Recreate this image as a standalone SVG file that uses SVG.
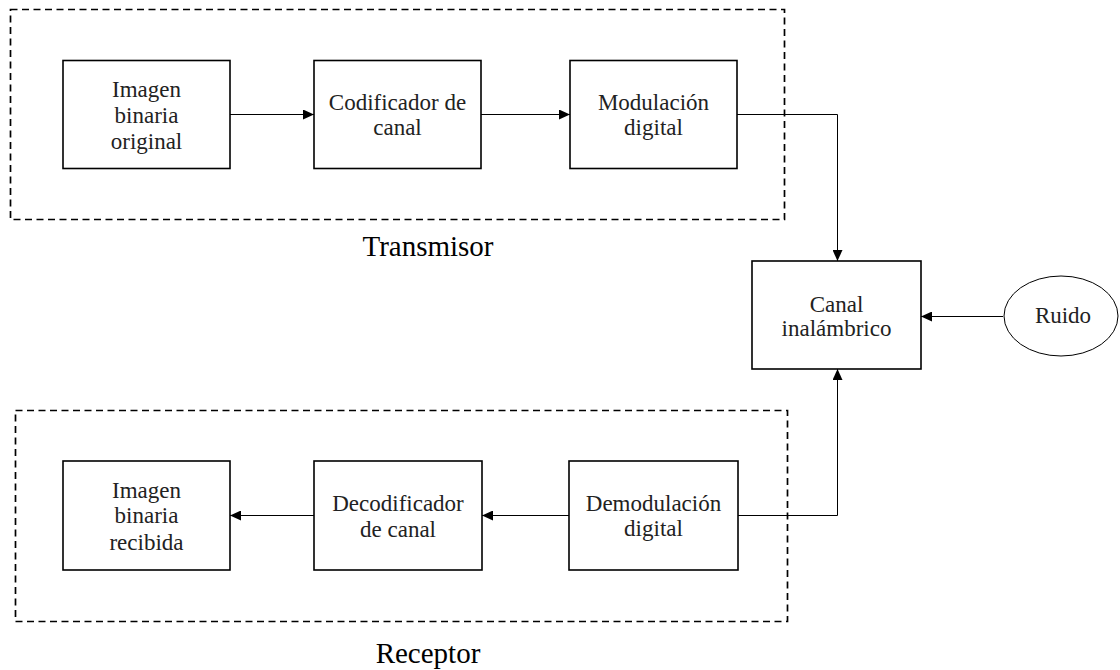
<svg xmlns="http://www.w3.org/2000/svg" width="1120" height="670" viewBox="0 0 1120 670">
<style>
.box{fill:#fff;stroke:#000;stroke-width:1.6}
.grp{fill:none;stroke:#000;stroke-width:1.7;stroke-dasharray:7,4.5}
.t{font-family:"Liberation Serif","Times New Roman",serif;font-size:23px;fill:#222;text-anchor:middle}
.big{font-family:"Liberation Serif","Times New Roman",serif;font-size:29px;fill:#000;text-anchor:middle}
.c{fill:none;stroke:#000;stroke-width:1}
</style>
<defs>
<marker id="ah" viewBox="0 0 11 10" refX="11" refY="5" markerWidth="11" markerHeight="10" markerUnits="userSpaceOnUse" orient="auto">
<path d="M0,0 L11,5 L0,10 Z" fill="#000"/>
</marker>
</defs>
<rect width="1120" height="670" fill="#fff"/>
<g id="transmisor">
<rect class="grp" x="10.5" y="9.5" width="774" height="210"/>
<text class="big" x="428" y="256">Transmisor</text>
</g>
<g id="receptor">
<rect class="grp" x="15.5" y="410.5" width="772" height="211"/>
<text class="big" x="428" y="663">Receptor</text>
</g>
<g id="connectors">
<line class="c" x1="230" y1="114.5" x2="314" y2="114.5" marker-end="url(#ah)"/>
<line class="c" x1="481" y1="114.5" x2="570" y2="114.5" marker-end="url(#ah)"/>
<polyline class="c" points="737,114.5 837.5,114.5 837.5,261" marker-end="url(#ah)"/>
<line class="c" x1="1003" y1="316.5" x2="921" y2="316.5" marker-end="url(#ah)"/>
<polyline class="c" points="738,515.5 837.5,515.5 837.5,369" marker-end="url(#ah)"/>
<line class="c" x1="569" y1="515.5" x2="482" y2="515.5" marker-end="url(#ah)"/>
<line class="c" x1="314" y1="515.5" x2="230" y2="515.5" marker-end="url(#ah)"/>
</g>
<g id="imagen-original">
<rect class="box" x="63" y="60.5" width="167" height="108"/>
<text class="t" x="146.5" y="97">Imagen</text>
<text class="t" x="146.5" y="123">binaria</text>
<text class="t" x="146.5" y="149">original</text>
</g>
<g id="codificador">
<rect class="box" x="314" y="60.5" width="167" height="108"/>
<text class="t" x="397.5" y="110">Codificador de</text>
<text class="t" x="397.5" y="135">canal</text>
</g>
<g id="modulacion">
<rect class="box" x="570" y="60.5" width="167" height="108"/>
<text class="t" x="653.5" y="110">Modulación</text>
<text class="t" x="653.5" y="135">digital</text>
</g>
<g id="canal">
<rect class="box" x="752" y="261" width="169" height="108"/>
<text class="t" x="836.5" y="312">Canal</text>
<text class="t" x="836.5" y="336">inalámbrico</text>
</g>
<g id="ruido">
<ellipse cx="1061" cy="316" rx="57" ry="40" fill="#fff" stroke="#000" stroke-width="1"/>
<text class="t" x="1063" y="323">Ruido</text>
</g>
<g id="demodulacion">
<rect class="box" x="569" y="461" width="169" height="109"/>
<text class="t" x="653.5" y="511">Demodulación</text>
<text class="t" x="653.5" y="536">digital</text>
</g>
<g id="decodificador">
<rect class="box" x="314" y="461" width="168" height="109"/>
<text class="t" x="398" y="511">Decodificador</text>
<text class="t" x="398" y="537">de canal</text>
</g>
<g id="imagen-recibida">
<rect class="box" x="63" y="461" width="167" height="109"/>
<text class="t" x="146.5" y="498">Imagen</text>
<text class="t" x="146.5" y="523">binaria</text>
<text class="t" x="146.5" y="550">recibida</text>
</g>
</svg>
